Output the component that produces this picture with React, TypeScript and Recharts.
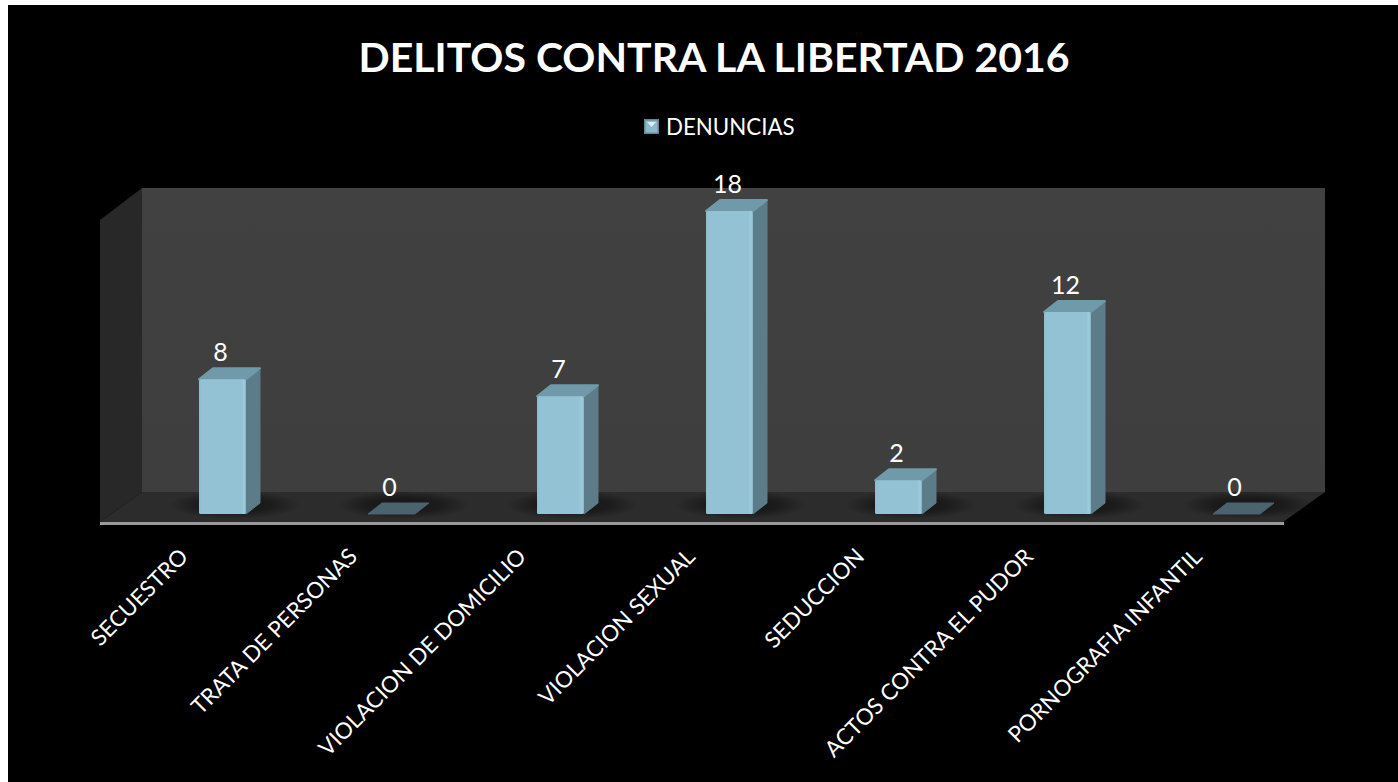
import React from 'react';
import { BarChart, Bar, XAxis, YAxis, Legend, LabelList } from 'recharts';

const categories = [
  'SECUESTRO',
  'TRATA DE PERSONAS',
  'VIOLACION DE DOMICILIO',
  'VIOLACION SEXUAL',
  'SEDUCCION',
  'ACTOS CONTRA EL PUDOR',
  'PORNOGRAFIA INFANTIL',
];
const denuncias = [8, 0, 7, 18, 2, 12, 0];

const data = categories.map((name, i) => ({ name, DENUNCIAS: denuncias[i] }));

const FONT = 'Lato, sans-serif';
const DEPTH_X = 14;
const DEPTH_Y = 11;

// back wall, side wall and floor of the 3D box, chart coordinates
const Room = () => (
  <g>
    <polygon points="134,183 1317,183 1317,487 134,487" fill="url(#wall)" />
    <polygon points="92,215 134,183 134,487 92,517" fill="#282828" />
    <polygon points="134,487 1317,487 1275,517 92,517" fill="#2c2c2c" />
    <rect x={92} y={517} width={1184} height={3} fill="#9a9a9a" />
  </g>
);

const Bar3D = (props: any) => {
  const { x, y, width, height } = props;
  const r = x + width;
  const b = y + height;
  const floorShadow = <ellipse cx={x + width / 2 + 12} cy={b - 9} rx={66} ry={14} fill="url(#shadow)" />;
  if (height < 1) {
    return (
      <g>
        {floorShadow}
        <polygon
          points={`${x},${b} ${r},${b} ${r + DEPTH_X},${b - DEPTH_Y} ${x + DEPTH_X},${b - DEPTH_Y}`}
          fill="#4b636e"
          stroke="#4b636e"
          strokeLinejoin="round"
        />
      </g>
    );
  }
  return (
    <g>
      {floorShadow}
      <polygon
        points={`${r},${y} ${r + DEPTH_X},${y - DEPTH_Y} ${r + DEPTH_X},${b - DEPTH_Y} ${r},${b}`}
        fill="#5d7c89"
        stroke="#5d7c89"
        strokeLinejoin="round"
      />
      <polygon
        points={`${x},${y} ${r},${y} ${r + DEPTH_X},${y - DEPTH_Y} ${x + DEPTH_X},${y - DEPTH_Y}`}
        fill="#709aa9"
        stroke="#709aa9"
        strokeWidth={2}
        strokeLinejoin="round"
      />
      <rect x={x} y={y} width={width} height={height} rx={1.5} fill="url(#front)" />
    </g>
  );
};

const CategoryTick = (props: any) => {
  const { x, y, payload } = props;
  const tx = x - 33;
  const ty = y + 36;
  return (
    <text
      x={tx}
      y={ty}
      transform={`rotate(-45 ${tx} ${ty})`}
      textAnchor="end"
      fill="#ffffff"
      fontFamily={FONT}
      fontSize={22.4}
    >
      {payload.value}
    </text>
  );
};

const LegendBox = () => (
  <div style={{ display: 'flex', alignItems: 'center', fontFamily: FONT, fontSize: 22.3, color: '#fff' }}>
    <svg width={15} height={15} style={{ marginRight: 7 }}>
      <rect width={15} height={15} fill="#5f8796" />
      <rect x={1.5} y={1.5} width={12} height={12} fill="#8dbacb" />
      <polygon points="3,3 12,3 7.5,8" fill="#d8f0f8" />
    </svg>
    <span>DENUNCIAS</span>
  </div>
);

export default function App() {
  return (
    <div style={{ position: 'absolute', left: 8, top: 5, width: 1390, height: 777, background: '#000' }}>
      <BarChart
        width={1390}
        height={777}
        data={data}
        margin={{ top: 206, right: 77, bottom: 0, left: 130 }}
        style={{ background: '#000' }}
      >
        <defs>
          <linearGradient id="wall" x1="0" y1="0" x2="0" y2="1">
            <stop offset="0" stopColor="#414141" />
            <stop offset="1" stopColor="#3e3e3e" />
          </linearGradient>
          <linearGradient id="front" x1="0" y1="0" x2="1" y2="0">
            <stop offset="0" stopColor="#8fbccd" />
            <stop offset="0.06" stopColor="#93c2d4" />
            <stop offset="0.9" stopColor="#93c2d4" />
            <stop offset="0.96" stopColor="#9ccee0" />
            <stop offset="1" stopColor="#86b2c2" />
          </linearGradient>
          <radialGradient id="shadow">
            <stop offset="0" stopColor="#141414" stopOpacity={0.95} />
            <stop offset="0.55" stopColor="#141414" stopOpacity={0.7} />
            <stop offset="1" stopColor="#141414" stopOpacity={0} />
          </radialGradient>
        </defs>
        <text x={706} y={67} textAnchor="middle" fill="#ffffff" fontFamily={FONT} fontWeight={700} fontSize={41}>
          DELITOS CONTRA LA LIBERTAD 2016
        </text>
        <Room />
        <XAxis dataKey="name" interval={0} axisLine={false} tickLine={false} height={238} tick={<CategoryTick />} />
        <YAxis hide domain={[0, 18]} />
        <Legend
          content={<LegendBox />}
          wrapperStyle={{ position: 'absolute', left: 636, top: 108, width: 170, height: 30, bottom: 'auto' }}
        />
        <Bar dataKey="DENUNCIAS" barSize={47} shape={<Bar3D />} isAnimationActive={false}>
          <LabelList dataKey="DENUNCIAS" position="top" offset={18} dx={-2} fill="#ffffff" fontFamily={FONT} fontSize={25} />
        </Bar>
      </BarChart>
    </div>
  );
}
